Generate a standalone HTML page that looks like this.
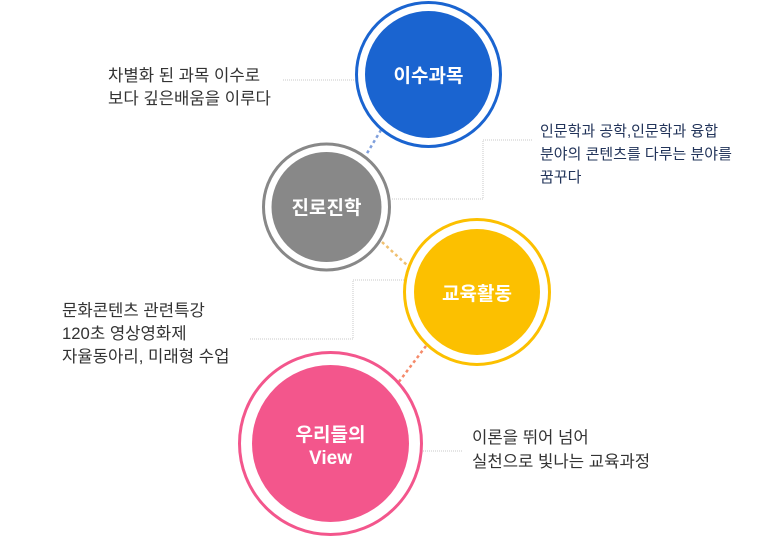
<!DOCTYPE html>
<html><head><meta charset="utf-8"><style>
body{margin:0;background:#fff;width:775px;height:536px;overflow:hidden}
svg text{font-family:"Liberation Sans","Noto Sans CJK KR",sans-serif}
</style></head><body>
<svg width="775" height="536" viewBox="0 0 775 536">
<g fill="none" stroke="#c8c8c8" stroke-width="1" stroke-dasharray="1,1">
<polyline points="283,80 356,80"/>
<polyline points="392,199 483,199 483,140 532,140"/>
<polyline points="250,339 353,339 353,280 404,280"/>
<polyline points="423,451 462,451"/>
</g>
<g fill="none" stroke-width="2.5" stroke-dasharray="3,3">
<line x1="381" y1="130" x2="366" y2="155" stroke="#7f9fdc"/>
<line x1="382" y1="242" x2="408" y2="266" stroke="#f0c070"/>
<line x1="426" y1="346" x2="398" y2="383" stroke="#f58a6a"/>
</g>
<circle cx="428.5" cy="74.5" r="72" fill="#fff" stroke="#1a64d0" stroke-width="3"/>
<circle cx="428.5" cy="74.5" r="63.5" fill="#1a64d0"/>
<circle cx="326.5" cy="207" r="63" fill="#fff" stroke="#888" stroke-width="3"/>
<circle cx="326.5" cy="207" r="55" fill="#888"/>
<circle cx="477" cy="292" r="72.5" fill="#fff" stroke="#fcc000" stroke-width="3"/>
<circle cx="477" cy="292" r="63" fill="#fcc000"/>
<circle cx="330.5" cy="443.5" r="91" fill="#fff" stroke="#f3568c" stroke-width="3"/>
<circle cx="330.5" cy="443.5" r="78.5" fill="#f3568c"/>
<g fill="#fff" font-size="19" font-weight="bold" text-anchor="middle">
<text x="428.5" y="82">이수과목</text>
<text x="326.5" y="214">진로진학</text>
<text x="477" y="300">교육활동</text>
<text x="330.5" y="441">우리들의</text>
<text x="330.5" y="464">View</text>
</g>
<g fill="#333" font-size="16.7">
<text x="108" y="81">차별화 된 과목 이수로</text>
<text x="108" y="104">보다 깊은배움을 이루다</text>
<text x="62" y="316">문화콘텐츠 관련특강</text>
<text x="62" y="339">120초 영상영화제</text>
<text x="62" y="362">자율동아리, 미래형 수업</text>
<text x="472" y="443">이론을 뛰어 넘어</text>
<text x="472" y="467">실천으로 빛나는 교육과정</text>
</g>
<g fill="#22345a" font-size="15">
<text x="540" y="136">인문학과 공학,인문학과 융합</text>
<text x="540" y="159">분야의 콘텐츠를 다루는 분야를</text>
<text x="540" y="182">꿈꾸다</text>
</g>
</svg>
</body></html>
